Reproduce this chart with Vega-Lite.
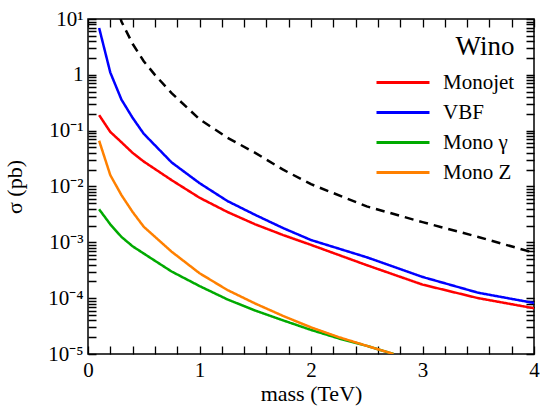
{
  "$schema": "https://vega.github.io/schema/vega-lite/v6.json",
  "width": 446,
  "height": 335,
  "autosize": {"type": "none"},
  "padding": {"left": 88, "top": 19, "right": 6, "bottom": 58},
  "background": "white",
  "config": {
    "view": {"stroke": "black", "strokeWidth": 1.5}
  },
  "data": {"values": [
      {"series": "Monojet", "mass": 0.1, "xs": 0.19},
      {"series": "Monojet", "mass": 0.2, "xs": 0.095},
      {"series": "Monojet", "mass": 0.3, "xs": 0.062},
      {"series": "Monojet", "mass": 0.4, "xs": 0.040},
      {"series": "Monojet", "mass": 0.5, "xs": 0.028},
      {"series": "Monojet", "mass": 0.75, "xs": 0.013},
      {"series": "Monojet", "mass": 1.0, "xs": 0.0063},
      {"series": "Monojet", "mass": 1.25, "xs": 0.0035},
      {"series": "Monojet", "mass": 1.5, "xs": 0.0021},
      {"series": "Monojet", "mass": 1.75, "xs": 0.00135},
      {"series": "Monojet", "mass": 2.0, "xs": 0.0009},
      {"series": "Monojet", "mass": 2.5, "xs": 0.00039},
      {"series": "Monojet", "mass": 3.0, "xs": 0.000175},
      {"series": "Monojet", "mass": 3.5, "xs": 0.0001},
      {"series": "Monojet", "mass": 4.0, "xs": 0.000066},
      {"series": "VBF", "mass": 0.1, "xs": 6.9},
      {"series": "VBF", "mass": 0.2, "xs": 1.1},
      {"series": "VBF", "mass": 0.3, "xs": 0.36},
      {"series": "VBF", "mass": 0.4, "xs": 0.17},
      {"series": "VBF", "mass": 0.5, "xs": 0.088},
      {"series": "VBF", "mass": 0.75, "xs": 0.027},
      {"series": "VBF", "mass": 1.0, "xs": 0.0115},
      {"series": "VBF", "mass": 1.25, "xs": 0.0055},
      {"series": "VBF", "mass": 1.5, "xs": 0.0031},
      {"series": "VBF", "mass": 1.75, "xs": 0.0018},
      {"series": "VBF", "mass": 2.0, "xs": 0.0011},
      {"series": "VBF", "mass": 2.5, "xs": 0.00054},
      {"series": "VBF", "mass": 3.0, "xs": 0.00024},
      {"series": "VBF", "mass": 3.5, "xs": 0.000125},
      {"series": "VBF", "mass": 4.0, "xs": 0.000082},
      {"series": "Mono γ", "mass": 0.1, "xs": 0.0039},
      {"series": "Mono γ", "mass": 0.2, "xs": 0.0021},
      {"series": "Mono γ", "mass": 0.3, "xs": 0.00125},
      {"series": "Mono γ", "mass": 0.4, "xs": 0.00085},
      {"series": "Mono γ", "mass": 0.5, "xs": 0.00063},
      {"series": "Mono γ", "mass": 0.75, "xs": 0.0003},
      {"series": "Mono γ", "mass": 1.0, "xs": 0.000165},
      {"series": "Mono γ", "mass": 1.25, "xs": 0.000095},
      {"series": "Mono γ", "mass": 1.5, "xs": 0.00006},
      {"series": "Mono γ", "mass": 1.75, "xs": 0.00004},
      {"series": "Mono γ", "mass": 2.0, "xs": 0.000027},
      {"series": "Mono γ", "mass": 2.25, "xs": 0.000019},
      {"series": "Mono γ", "mass": 2.5, "xs": 0.000014},
      {"series": "Mono γ", "mass": 2.74, "xs": 0.00001},
      {"series": "Mono Z", "mass": 0.1, "xs": 0.066},
      {"series": "Mono Z", "mass": 0.2, "xs": 0.016},
      {"series": "Mono Z", "mass": 0.3, "xs": 0.007},
      {"series": "Mono Z", "mass": 0.4, "xs": 0.0035},
      {"series": "Mono Z", "mass": 0.5, "xs": 0.0019},
      {"series": "Mono Z", "mass": 0.75, "xs": 0.00068},
      {"series": "Mono Z", "mass": 1.0, "xs": 0.00028},
      {"series": "Mono Z", "mass": 1.25, "xs": 0.00014},
      {"series": "Mono Z", "mass": 1.5, "xs": 0.00008},
      {"series": "Mono Z", "mass": 1.75, "xs": 0.000048},
      {"series": "Mono Z", "mass": 2.0, "xs": 0.00003},
      {"series": "Mono Z", "mass": 2.25, "xs": 0.00002},
      {"series": "Mono Z", "mass": 2.5, "xs": 0.000014},
      {"series": "Mono Z", "mass": 2.74, "xs": 0.00001},
      {"series": "Limit", "mass": 0.25, "xs": 20},
      {"series": "Limit", "mass": 0.3, "xs": 9.0},
      {"series": "Limit", "mass": 0.4, "xs": 3.6},
      {"series": "Limit", "mass": 0.5, "xs": 1.75},
      {"series": "Limit", "mass": 0.6, "xs": 1.0},
      {"series": "Limit", "mass": 0.75, "xs": 0.47},
      {"series": "Limit", "mass": 1.0, "xs": 0.16},
      {"series": "Limit", "mass": 1.25, "xs": 0.075},
      {"series": "Limit", "mass": 1.5, "xs": 0.04},
      {"series": "Limit", "mass": 1.75, "xs": 0.02},
      {"series": "Limit", "mass": 2.0, "xs": 0.011},
      {"series": "Limit", "mass": 2.5, "xs": 0.0044},
      {"series": "Limit", "mass": 3.0, "xs": 0.0023},
      {"series": "Limit", "mass": 3.5, "xs": 0.00125},
      {"series": "Limit", "mass": 4.0, "xs": 0.00065}
  ]},
  "mark": {"type": "line", "strokeWidth": 2.5, "clip": true},
  "encoding": {
    "x": {"field": "mass", "type": "quantitative",
      "scale": {"domain": [0, 4], "nice": false, "zero": false},
      "axis": {"orient": "bottom",
        "values": [0, 0.2, 0.4, 0.6, 0.8, 1, 1.2, 1.4, 1.6, 1.8, 2, 2.2, 2.4, 2.6, 2.8, 3, 3.2, 3.4, 3.6, 3.8, 4],
        "grid": true, "gridColor": "#000000", "gridWidth": 1.3,
        "gridDash": [8, 319, 8],
        "ticks": false, "domain": false,
        "labelOverlap": false, "labelFlush": false, "labelBound": false,
        "labelExpr": "abs(datum.value - round(datum.value)) > 0.01 ? '' : format(datum.value, 'd')",
        "labelFont": "Liberation Serif", "labelFontSize": 21, "labelColor": "black", "labelPadding": 5,
        "title": "mass (TeV)", "titleFont": "Liberation Serif", "titleFontSize": 22, "titleFontWeight": "normal", "titleColor": "black", "titlePadding": 3}},
    "y": {"field": "xs", "type": "quantitative",
      "scale": {"type": "log", "domain": [0.00001, 10], "nice": false},
      "axis": {"orient": "left",
        "values": [1e-5, 2e-5, 3e-5, 4e-5, 5e-5, 6e-5, 7e-5, 8e-5, 9e-5, 1e-4, 2e-4, 3e-4, 4e-4, 5e-4, 6e-4, 7e-4, 8e-4, 9e-4, 0.001, 0.002, 0.003, 0.004, 0.005, 0.006, 0.007, 0.008, 0.009, 0.01, 0.02, 0.03, 0.04, 0.05, 0.06, 0.07, 0.08, 0.09, 0.1, 0.2, 0.3, 0.4, 0.5, 0.6, 0.7, 0.8, 0.9, 1, 2, 3, 4, 5, 6, 7, 8, 9, 10],
        "grid": true, "gridColor": "#000000", "gridWidth": 1.3,
        "gridDash": [8, 430, 8],
        "ticks": false, "domain": false,
        "labelOverlap": false, "labelFlush": false, "labelBound": false,
        "labelExpr": "abs(log(datum.value)/LN10 - round(log(datum.value)/LN10)) > 0.01 ? '' : datum.value > 5 ? '10¹' : datum.value > 0.5 ? '1' : datum.value > 0.05 ? '10⁻¹' : datum.value > 0.005 ? '10⁻²' : datum.value > 0.0005 ? '10⁻³' : datum.value > 0.00005 ? '10⁻⁴' : '10⁻⁵'",
        "labelFont": "Liberation Serif", "labelFontSize": 21, "labelColor": "black", "labelPadding": 5,
        "title": "σ (pb)", "titleFont": "Liberation Serif", "titleFontSize": 22, "titleFontWeight": "normal", "titleColor": "black", "titlePadding": 21}},
    "color": {"field": "series", "type": "nominal",
      "scale": {"domain": ["Monojet", "VBF", "Mono γ", "Mono Z", "Limit"], "range": ["#ff0000", "#0000ff", "#00aa00", "#ff8000", "#000000"]},
      "legend": {"values": ["Monojet", "VBF", "Mono γ", "Mono Z"], "orient": "none", "legendX": 303.5, "legendY": 15, "title": "Wino", "titleFontSize": 27, "titleFont": "Liberation Serif", "titleFontWeight": "normal", "titleColor": "black", "titleAnchor": "end", "titlePadding": 10,
        "labelFontSize": 21, "labelFont": "Liberation Serif", "labelColor": "black", "symbolType": "M-2.65,0H2.65", "symbolSize": 400, "symbolStrokeWidth": 3, "labelOffset": 28.5, "rowPadding": 8, "padding": 0}},
    "strokeDash": {"field": "series", "type": "nominal",
      "scale": {"domain": ["Monojet", "VBF", "Mono γ", "Mono Z", "Limit"], "range": [[1, 0], [1, 0], [1, 0], [1, 0], [9, 6]]},
      "legend": null}
  }
}
